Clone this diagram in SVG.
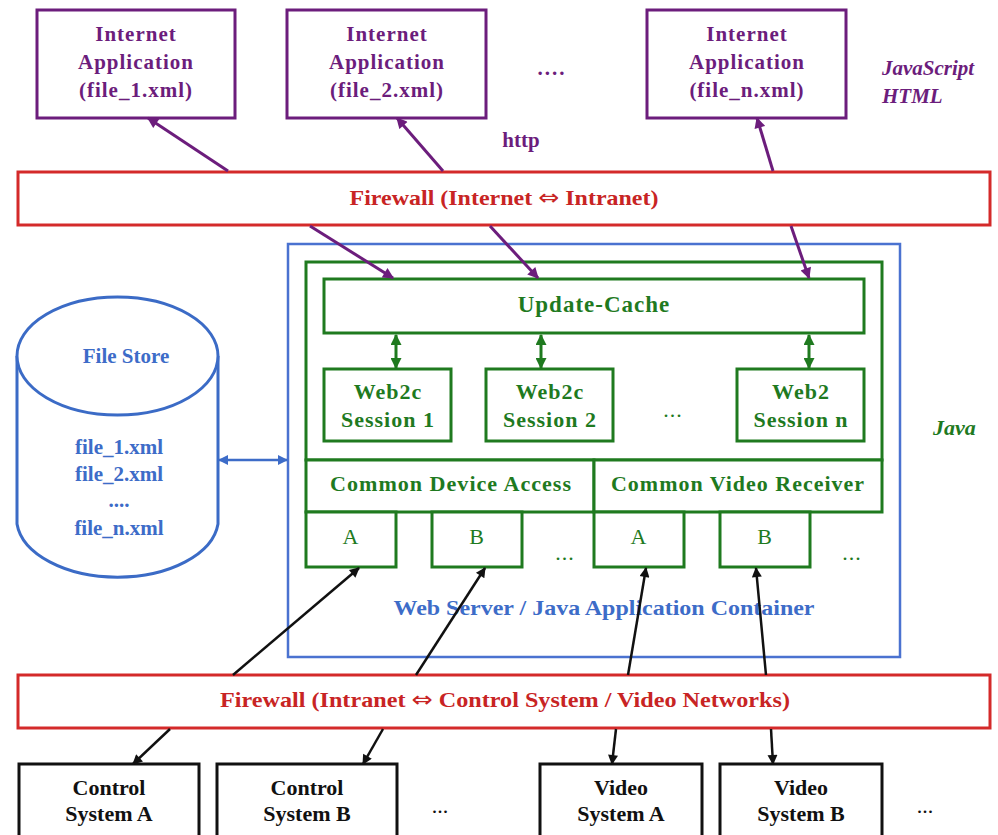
<svg xmlns="http://www.w3.org/2000/svg" width="998" height="835" viewBox="0 0 998 835">
<style>
text{font-family:"Liberation Serif","Times New Roman",serif;font-weight:bold;text-anchor:middle}
.pb{fill:#fff;stroke:#6c1d7c;stroke-width:3}
.pt{fill:#6c1d7c;font-size:21px;letter-spacing:1px}
.fw{fill:#fff;stroke:#d42a2a;stroke-width:3}
.ft{fill:#c82424;font-size:21px}
.arr{font-family:"DejaVu Sans",sans-serif;font-weight:normal;font-size:22px}
.gb{fill:#fff;stroke:#1f7a1f;stroke-width:3}
.gt{fill:#1f7a1f;font-size:22px;letter-spacing:1px}
.bb{fill:#fff;stroke:#111;stroke-width:3}
.bt{fill:#111;font-size:22px}
.blt{fill:#3d6cc8;font-size:21px}
.pl{stroke:#6c1d7c;stroke-width:3;fill:none}
.gl{stroke:#1f7a1f;stroke-width:3;fill:none}
.kl{stroke:#111;stroke-width:2.5;fill:none}
.bl{stroke:#3d6cc8;stroke-width:2.5;fill:none}
</style>
<defs>
<marker id="mp" viewBox="0 0 10 10" refX="9" refY="5" markerWidth="13" markerHeight="11" markerUnits="userSpaceOnUse" orient="auto-start-reverse"><path d="M0,0 L10,5 L0,10 z" fill="#6c1d7c"/></marker>
<marker id="mg" viewBox="0 0 10 10" refX="9" refY="5" markerWidth="11" markerHeight="11" markerUnits="userSpaceOnUse" orient="auto-start-reverse"><path d="M0,0 L10,5 L0,10 z" fill="#1f7a1f"/></marker>
<marker id="mk" viewBox="0 0 10 10" refX="9" refY="5" markerWidth="13" markerHeight="10" markerUnits="userSpaceOnUse" orient="auto-start-reverse"><path d="M0,0 L10,5 L0,10 z" fill="#111"/></marker>
<marker id="mb" viewBox="0 0 10 10" refX="9" refY="5" markerWidth="11" markerHeight="10" markerUnits="userSpaceOnUse" orient="auto-start-reverse"><path d="M0,0 L10,5 L0,10 z" fill="#3d6cc8"/></marker>
</defs>
<rect width="998" height="835" fill="#fff"/>

<g id="app1"><rect class="pb" x="37" y="10" width="198" height="108"/>
<text class="pt" x="136" y="41">Internet</text><text class="pt" x="136" y="69">Application</text><text class="pt" x="136" y="97">(file_1.xml)</text></g>
<g id="app2"><rect class="pb" x="287" y="10" width="199" height="108"/>
<text class="pt" x="387" y="41">Internet</text><text class="pt" x="387" y="69">Application</text><text class="pt" x="387" y="97">(file_2.xml)</text></g>
<g id="appn"><rect class="pb" x="647" y="10" width="199" height="108"/>
<text class="pt" x="747" y="41">Internet</text><text class="pt" x="747" y="69">Application</text><text class="pt" x="747" y="97">(file_n.xml)</text></g>
<text class="pt" x="552" y="75" style="letter-spacing:2px">....</text>
<text class="pt" x="521" y="147" style="letter-spacing:0">http</text>
<g id="lang-web"><text class="pt" x="882" y="75" style="text-anchor:start;font-style:italic;letter-spacing:0">JavaScript</text>
<text class="pt" x="882" y="103" style="text-anchor:start;font-style:italic;letter-spacing:0">HTML</text></g>

<g id="firewall1"><rect class="fw" x="18" y="172" width="972" height="53"/>
<text class="ft" x="504" y="205" textLength="309" lengthAdjust="spacingAndGlyphs">Firewall (Internet <tspan class="arr">⇔</tspan> Intranet)</text></g>

<g id="filestore">
<path d="M17,356 L17,524 A101,59 0 0 0 218,524 L218,356" fill="#fff" stroke="#3b6bc6" stroke-width="3"/>
<ellipse cx="117.5" cy="356" rx="100.5" ry="59" fill="#fff" stroke="#3b6bc6" stroke-width="3"/>
<text class="blt" x="126" y="363">File Store</text>
<text class="blt" x="119" y="454">file_1.xml</text>
<text class="blt" x="119" y="481">file_2.xml</text>
<text class="blt" x="119" y="507">....</text>
<text class="blt" x="119" y="535">file_n.xml</text>
</g>

<g id="container"><rect x="288" y="244" width="612" height="413" fill="#fff" stroke="#4a72d0" stroke-width="2.5"/>
<text class="blt" x="604" y="615" textLength="421" lengthAdjust="spacingAndGlyphs">Web Server / Java Application Container</text></g>
<g id="java-frame"><rect class="gb" x="306" y="262" width="576" height="198"/></g>
<g id="update-cache"><rect class="gb" x="324" y="279" width="540" height="54"/>
<text class="gt" x="594" y="312" style="font-size:23px">Update-Cache</text></g>
<g id="session1"><rect class="gb" x="324" y="369" width="127" height="72"/>
<text class="gt" x="388" y="399">Web2c</text><text class="gt" x="388" y="427">Session 1</text></g>
<g id="session2"><rect class="gb" x="486" y="369" width="127" height="72"/>
<text class="gt" x="550" y="399">Web2c</text><text class="gt" x="550" y="427">Session 2</text></g>
<text class="gt" x="673" y="417" style="font-weight:normal">...</text>
<g id="sessionn"><rect class="gb" x="737" y="369" width="127" height="72"/>
<text class="gt" x="801" y="399">Web2</text><text class="gt" x="801" y="427">Session n</text></g>
<g id="cda"><rect class="gb" x="306" y="460" width="288" height="52"/>
<text class="gt" x="451" y="491" textLength="242" lengthAdjust="spacingAndGlyphs">Common Device Access</text></g>
<g id="cvr"><rect class="gb" x="594" y="460" width="288" height="52"/>
<text class="gt" x="738" y="491" textLength="254" lengthAdjust="spacingAndGlyphs">Common Video Receiver</text></g>
<g id="cda-a"><rect class="gb" x="306" y="512" width="90" height="55"/><text class="gt" x="351" y="544" style="font-weight:normal">A</text></g>
<g id="cda-b"><rect class="gb" x="432" y="512" width="90" height="55"/><text class="gt" x="477" y="544" style="font-weight:normal">B</text></g>
<text class="gt" x="565" y="560" style="font-weight:normal">...</text>
<g id="cvr-a"><rect class="gb" x="594" y="512" width="90" height="55"/><text class="gt" x="639" y="544" style="font-weight:normal">A</text></g>
<g id="cvr-b"><rect class="gb" x="720" y="512" width="90" height="55"/><text class="gt" x="765" y="544" style="font-weight:normal">B</text></g>
<text class="gt" x="852" y="560" style="font-weight:normal">...</text>
<g id="lang-java"><text class="gt" x="933" y="435" style="text-anchor:start;font-style:italic;letter-spacing:0">Java</text></g>

<g id="firewall2"><rect class="fw" x="18" y="675" width="972" height="53"/>
<text class="ft" x="505" y="707" textLength="570" lengthAdjust="spacingAndGlyphs">Firewall (Intranet <tspan class="arr">⇔</tspan> Control System / Video Networks)</text></g>

<g id="csa"><rect class="bb" x="19" y="764" width="180" height="90"/><text class="bt" x="109" y="795">Control</text><text class="bt" x="109" y="821">System A</text></g>
<g id="csb"><rect class="bb" x="217" y="764" width="180" height="90"/><text class="bt" x="307" y="795">Control</text><text class="bt" x="307" y="821">System B</text></g>
<text class="bt" x="440" y="813" style="font-weight:normal">...</text>
<g id="vsa"><rect class="bb" x="540" y="764" width="162" height="90"/><text class="bt" x="621" y="795">Video</text><text class="bt" x="621" y="821">System A</text></g>
<g id="vsb"><rect class="bb" x="720" y="764" width="162" height="90"/><text class="bt" x="801" y="795">Video</text><text class="bt" x="801" y="821">System B</text></g>
<text class="bt" x="925" y="813" style="font-weight:normal">...</text>

<g id="connectors">
<line class="pl" x1="228" y1="171" x2="148" y2="118" marker-end="url(#mp)"/>
<line class="pl" x1="443" y1="171" x2="397" y2="118" marker-end="url(#mp)"/>
<line class="pl" x1="773" y1="171" x2="757" y2="118" marker-end="url(#mp)"/>
<line class="pl" x1="310" y1="226" x2="393" y2="278" marker-end="url(#mp)"/>
<line class="pl" x1="490" y1="226" x2="538" y2="278" marker-end="url(#mp)"/>
<line class="pl" x1="791" y1="226" x2="809" y2="278" marker-end="url(#mp)"/>
<line class="gl" x1="396" y1="335" x2="396" y2="368" marker-start="url(#mg)" marker-end="url(#mg)"/>
<line class="gl" x1="541" y1="335" x2="541" y2="368" marker-start="url(#mg)" marker-end="url(#mg)"/>
<line class="gl" x1="809" y1="335" x2="809" y2="368" marker-start="url(#mg)" marker-end="url(#mg)"/>
<line class="bl" x1="219" y1="460" x2="287" y2="460" marker-start="url(#mb)" marker-end="url(#mb)"/>
<line class="kl" x1="233" y1="675" x2="359" y2="568" marker-end="url(#mk)"/>
<line class="kl" x1="416" y1="675" x2="485" y2="568" marker-end="url(#mk)"/>
<line class="kl" x1="628" y1="675" x2="646" y2="568" marker-end="url(#mk)"/>
<line class="kl" x1="766" y1="675" x2="756" y2="568" marker-end="url(#mk)"/>
<line class="kl" x1="170" y1="729" x2="133" y2="764" marker-end="url(#mk)"/>
<line class="kl" x1="383" y1="729" x2="363" y2="764" marker-end="url(#mk)"/>
<line class="kl" x1="616" y1="729" x2="612" y2="764" marker-end="url(#mk)"/>
<line class="kl" x1="771" y1="729" x2="773" y2="764" marker-end="url(#mk)"/>
</g>
</svg>
